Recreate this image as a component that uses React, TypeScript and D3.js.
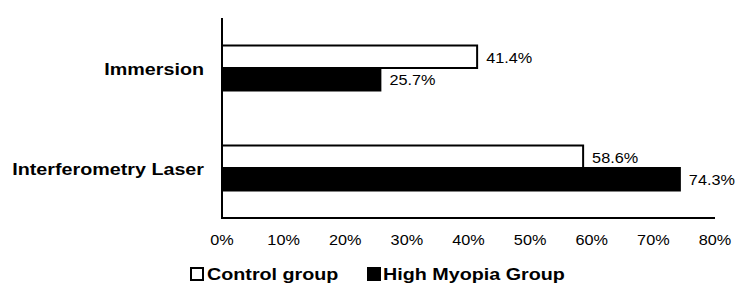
import React from "react";
import * as d3 from "d3";

const categories = ["Immersion", "Interferometry Laser"];
const seriesNames = ["Control group", "High Myopia Group"];
const controlValues = [41.4, 58.6];
const myopiaValues = [25.7, 74.3];
const xTicks = [0, 10, 20, 30, 40, 50, 60, 70, 80];

const W = 750;
const H = 300;
const margin = { left: 222, right: 35, top: 18, bottom: 82 };
const SX = 1.16;
const FONT = "'Liberation Sans', Arial, sans-serif";

function SText({ x, y, anchor, size, weight, children }: any) {
  return (
    <g transform={`translate(${x},${y}) scale(${SX},1)`}>
      <text
        x={0}
        y={0}
        textAnchor={anchor || "start"}
        dominantBaseline="central"
        fontSize={size}
        fontWeight={weight || "normal"}
        fontFamily={FONT}
        fill="#000"
      >
        {children}
      </text>
    </g>
  );
}

export default function App() {
  const x = d3.scaleLinear().domain([0, 80]).range([margin.left, W - margin.right]);
  const y = d3
    .scaleBand<string>()
    .domain(categories)
    .range([margin.top, H - margin.bottom])
    .paddingInner(0.55)
    .paddingOuter(0.275);
  const inner = d3.scaleBand<string>().domain(seriesNames).range([0, y.bandwidth()]);
  const series = [
    { name: seriesNames[0], values: controlValues, fill: "#fff" },
    { name: seriesNames[1], values: myopiaValues, fill: "#000" },
  ];
  const y0 = margin.top;
  const y1 = H - margin.bottom;

  return (
    <svg width={W} height={H} style={{ position: "absolute", left: 0, top: 0, background: "#fff" }}>
      <rect x={0} y={0} width={W} height={H} fill="#fff" />
      {series.map((s) =>
        categories.map((c, i) => {
          const by = (y(c) as number) + (inner(s.name) as number);
          const bh = inner.bandwidth();
          const bw = x(s.values[i]) - x(0);
          return (
            <g key={s.name + c}>
              <rect x={x(0)} y={by} width={bw} height={bh} fill={s.fill} stroke="#000" strokeWidth={2} />
              <SText x={x(s.values[i]) + 9} y={by + bh / 2 + 1} size={14}>
                {s.values[i].toFixed(1) + "%"}
              </SText>
            </g>
          );
        })
      )}
      <line x1={x(0)} x2={x(0)} y1={y0} y2={y1} stroke="#000" strokeWidth={2} />
      <line x1={x(0) - 1} x2={x(80)} y1={y1} y2={y1} stroke="#000" strokeWidth={2} />
      {xTicks.map((t) => (
        <SText key={t} x={x(t)} y={240} anchor="middle" size={14}>
          {t + "%"}
        </SText>
      ))}
      {categories.map((c) => (
        <SText key={c} x={204} y={(y(c) as number) + y.bandwidth() / 2 + 1} anchor="end" size={17} weight="bold">
          {c}
        </SText>
      ))}
      <rect x={191} y={268} width={12} height={12} fill="#fff" stroke="#000" strokeWidth={2} />
      <SText x={207} y={274} size={17} weight="bold">
        {seriesNames[0]}
      </SText>
      <rect x={367} y={267} width={14} height={14} fill="#000" />
      <SText x={383} y={274} size={17} weight="bold">
        {seriesNames[1]}
      </SText>
    </svg>
  );
}
